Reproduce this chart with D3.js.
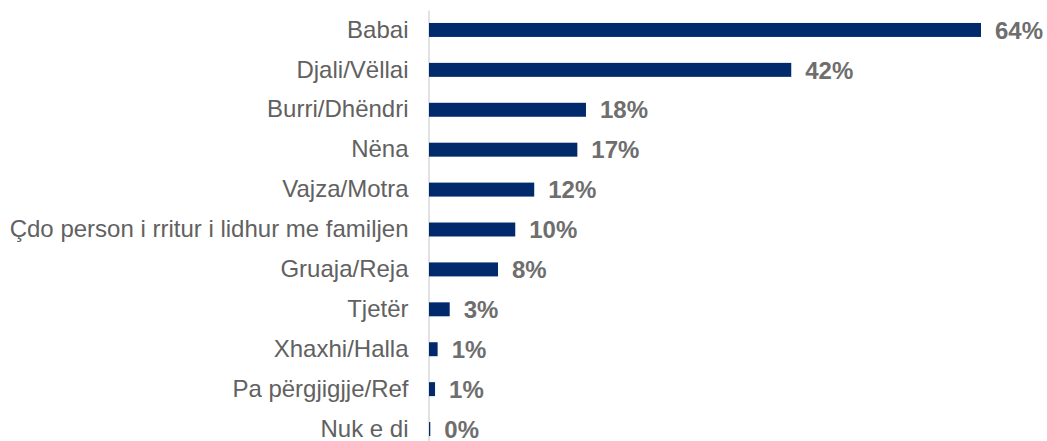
<!DOCTYPE html>
<html>
<head>
<meta charset="utf-8">
<script src="https://cdn.jsdelivr.net/npm/d3@7"></script>
<style>
  body { margin: 0; background: #fff; }
  svg { display: block; }
</style>
</head>
<body>
<svg id="chart"></svg>
<script>
const categories = ["Babai", "Djali/Vëllai", "Burri/Dhëndri", "Nëna", "Vajza/Motra",
    "Çdo person i rritur i lidhur me familjen", "Gruaja/Reja", "Tjetër",
    "Xhaxhi/Halla", "Pa përgjigjje/Ref", "Nuk e di"];
const values = [64, 42, 18.2, 17.2, 12.2, 10, 8, 2.4, 1, 0.7, 0.15];
const labels = ["64%", "42%", "18%", "17%", "12%", "10%", "8%", "3%", "1%", "1%", "0%"];

const width = 1047, height = 441;
const data = categories.map((c, i) => ({ cat: c, value: values[i], label: labels[i] }));

const svg = d3.select("#chart")
    .attr("width", width)
    .attr("height", height);

const x = d3.scaleLinear()
    .domain([0, 64])
    .range([429, 981]);

const y = d3.scaleBand()
    .domain(categories)
    .range([10, 449])
    .paddingInner(0.65)
    .paddingOuter(0.325);

// category axis
const axis = svg.append("g")
    .attr("transform", `translate(428.5, 0)`)
    .call(d3.axisLeft(y).tickSize(0).tickSizeOuter(0).tickPadding(20));

axis.select(".domain")
    .attr("stroke", "#d9d9d9")
    .attr("stroke-width", 1.5);

axis.selectAll("text")
    .attr("fill", "#616161")
    .style("font-family", "'Liberation Sans', Arial, sans-serif")
    .style("font-size", "24px");

// bars
svg.append("g")
    .selectAll("rect")
    .data(data)
    .join("rect")
    .attr("x", x(0))
    .attr("y", d => y(d.cat))
    .attr("width", d => x(d.value) - x(0))
    .attr("height", y.bandwidth())
    .attr("fill", "#002a6c");

// value labels
svg.append("g")
    .selectAll("text")
    .data(data)
    .join("text")
    .attr("x", d => x(d.value) + 14)
    .attr("y", d => y(d.cat) + y.bandwidth() / 2)
    .attr("dy", "0.36em")
    .attr("fill", "#6e6e6e")
    .style("font-family", "'Liberation Sans', Arial, sans-serif")
    .style("font-size", "24px")
    .style("font-weight", "bold")
    .text(d => d.label);
</script>
</body>
</html>
